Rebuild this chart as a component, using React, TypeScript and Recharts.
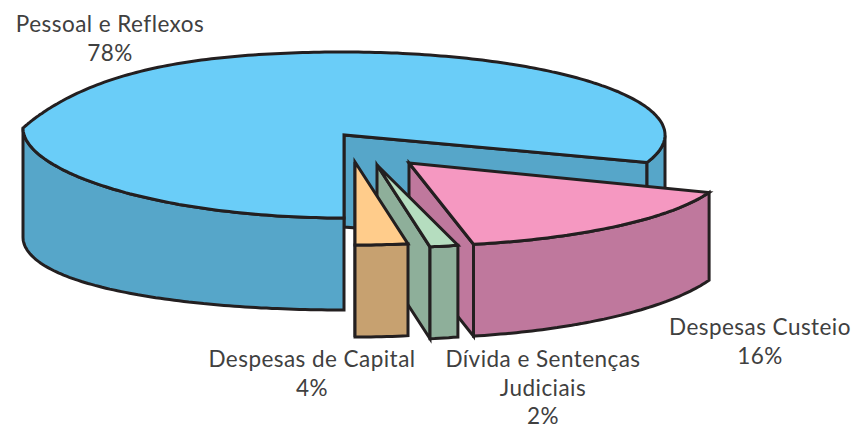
import React from 'react';
import { PieChart, Pie } from 'recharts';

const categories = ['Pessoal e Reflexos', 'Despesas Custeio', 'Dívida e Sentenças Judiciais', 'Despesas de Capital'];
const labelLines = [['Pessoal e Reflexos'], ['Despesas Custeio'], ['Dívida e Sentenças', 'Judiciais'], ['Despesas de Capital']];
const values = [78, 16, 2, 4];

const topColors = ['#6ACDF8', '#F598C1', '#B5DDBF', '#FFCC8B'];
const wallColors = ['#56A6C9', '#BF789D', '#8EAF9A', '#C7A170'];
const explodeX = [0, 65, 33, 11];
const explodeY = [0, 28, 30, 27];
// fine correction (degrees) between the even split and the hand-drawn slice edges
const startTrim = [0, -10, -7, -4.9];
const endTrim = [-8.5, -10, -4.9, 0];
const labelX = [110, 760, 543, 312];
const labelY = [32, 335, 367, 367];

const TILT = 83 / 321;
const INK = '#231F20';
const rad = Math.PI / 180;

function App() {
  const data = categories.map((name, i) => ({ name, value: values[i] }));

  const renderSlice = (p: any) => {
    const i: number = p.index;
    const rx: number = p.outerRadius;
    const ry = rx * TILT;
    const ax = p.cx + explodeX[i];
    const ay = p.cy + explodeY[i];
    const s = p.startAngle + startTrim[i];
    const e = p.endAngle + endTrim[i];
    const top = (a: number): [number, number] => {
      const c = Math.cos(a * rad);
      const sn = Math.sin(a * rad);
      // the drawn rim flattens towards a pointed left end
      const flat = c < 0 && sn > 0 ? 85 * sn * (1 - sn) * (1 - sn) : 0;
      return [ax + rx * c, ay - ry * sn - (c < 0 ? 7 * c * c : 0) + flat];
    };
    const depth = (a: number) => {
      const c = Math.cos(a * rad);
      return 92 + (c < 0 ? 17 * c * c : -5 * c * c);
    };
    const low = (a: number): [number, number] => {
      const [x, y] = top(a);
      return [x, y + depth(a)];
    };
    const n = Math.max(2, Math.ceil(Math.abs(e - s)));
    const angles = Array.from({ length: n + 1 }, (_, k) => s + ((e - s) * k) / n);
    const d = (pts: [number, number][]) => 'M' + pts.map((q) => q[0].toFixed(1) + ' ' + q[1].toFixed(1)).join('L') + 'Z';

    const runs: number[][] = [];
    let cur: number[] = [];
    angles.forEach((a) => {
      if (Math.sin(a * rad) <= 0.0001) cur.push(a);
      else if (cur.length) {
        runs.push(cur);
        cur = [];
      }
    });
    if (cur.length) runs.push(cur);

    const common = { stroke: INK, strokeWidth: 3, strokeLinejoin: 'miter' as const };
    return (
      <g>
        <path
          d={d([[ax, ay], top(e), low(e), [ax, ay + 92]])}
          fill={wallColors[i]}
          {...common}
        />
        {runs.map((r, k) => (
          <path
            key={k}
            d={d([...r.map(top), ...r.slice().reverse().map(low)])}
            fill={wallColors[i]}
            {...common}
          />
        ))}
        <path d={d([[ax, ay], ...angles.map(top)])} fill={topColors[i]} {...common} />
      </g>
    );
  };

  const renderLabel = (p: any) => {
    const i: number = p.index;
    const lines = [...labelLines[i], values[i] + '%'];
    return (
      <text
        key={i}
        x={labelX[i]}
        y={labelY[i]}
        textAnchor="middle"
        fontFamily="Lato"
        fontSize={22.5}
        letterSpacing={0.45}
        fill="#404040"
      >
        {lines.map((t, k) => (
          <tspan key={k} x={labelX[i]} y={labelY[i] + k * 28.5}>
            {t}
          </tspan>
        ))}
      </text>
    );
  };

  return (
    <div style={{ position: 'absolute', left: 0, top: 0, width: 854, height: 428, background: '#fff' }}>
      <PieChart width={854} height={428} margin={{ top: 0, right: 0, bottom: 0, left: 0 }}>
        <Pie
          data={data}
          dataKey="value"
          nameKey="name"
          cx={344}
          cy={135}
          innerRadius={0}
          outerRadius={321}
          startAngle={-90}
          endAngle={-450}
          paddingAngle={0}
          isAnimationActive={false}
          shape={renderSlice}
          label={renderLabel}
          labelLine={false}
          rootTabIndex={-1}
        />
      </PieChart>
    </div>
  );
}

export default App;
